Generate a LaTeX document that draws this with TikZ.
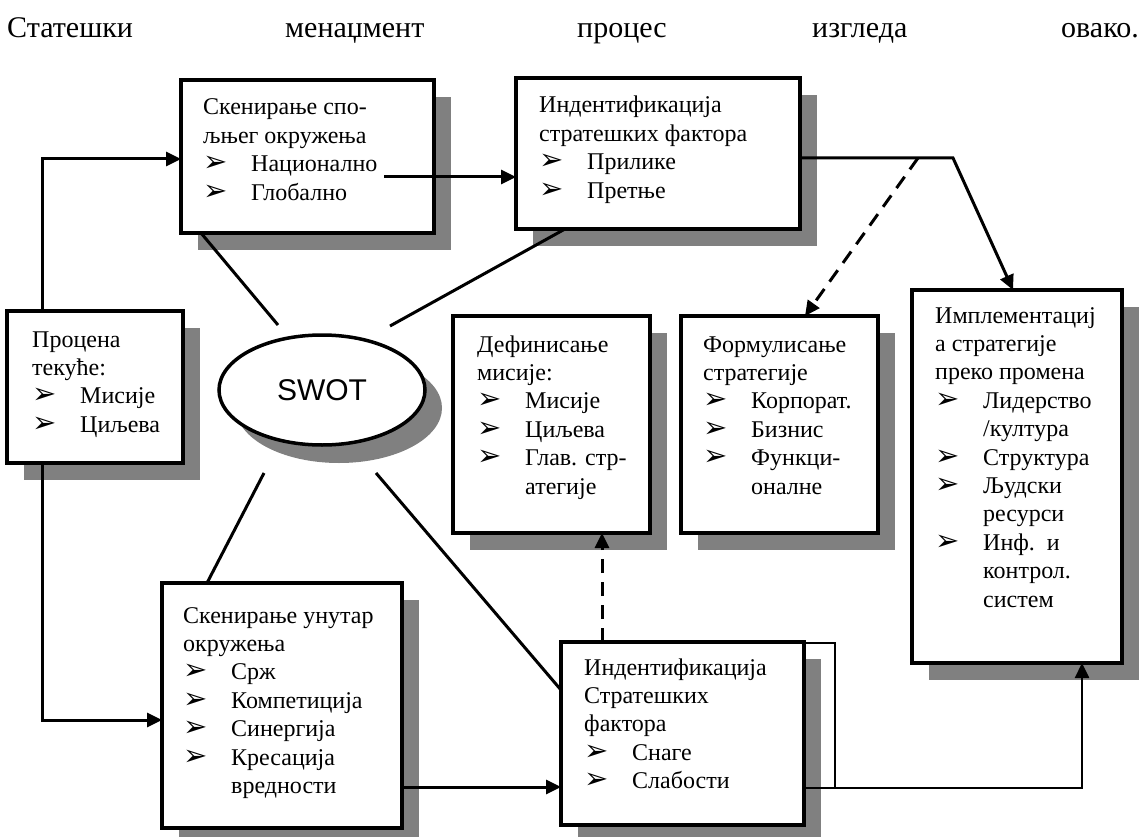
\documentclass[tikz,border=0pt]{standalone}
\usepackage{fontspec}
\setmainfont{Liberation Serif}
\newfontfamily\swotfont{Liberation Sans}
\newfontfamily\bulfont{DejaVu Sans}
\usetikzlibrary{arrows.meta,shapes.geometric,shadows}
\definecolor{shadowgray}{HTML}{808080}
\newcommand\bl{\makebox[48pt][l]{\bulfont\fontsize{29}{29}\selectfont ➢}}
\newcommand\ind{\hspace*{48pt}}
\begin{document}
\begin{tikzpicture}[x=1pt,y=-1pt,
  box/.style={draw, line width=4pt, fill=white, anchor=north west, inner sep=0pt, outer sep=0pt,
    drop shadow={shadow xshift=17pt, shadow yshift=-17pt, opacity=1, fill=shadowgray}},
  txt/.style={anchor=base west, inner sep=0pt, font=\fontsize{24}{28.4}\selectfont},
  ttl/.style={inner sep=0pt, font=\fontsize{30}{34}\selectfont},
  conn/.style={line width=3pt},
  thinconn/.style={line width=2.5pt},
  arr/.style={-{Triangle[length=15pt,width=14pt]}},
  dsh/.style={dash pattern=on 14pt off 9pt},
]
\fill[white] (0,0) rectangle (1145,837);
\useasboundingbox (0,0) rectangle (1145,837);

% title
\node[ttl, anchor=base west] (w1) at (7,38) {Статешки};
\node[ttl, anchor=base west] (w2) at (285,38) {менаџмент};
\node[ttl, anchor=base west] (w3) at (577,38) {процес};
\node[ttl, anchor=base west] (w4) at (812,38) {изгледа};
\node[ttl, anchor=base east] (w5) at (1139,38) {овако.};

% frame behind lower identification box
\draw[line width=2.5pt] (700,643) rectangle (835,788);

% boxes
\node[box, minimum width=176pt, minimum height=152pt] (proc) at (7,311) {};
\node[box, minimum width=253pt, minimum height=153pt] (b1) at (181,80) {};
\node[box, minimum width=284pt, minimum height=151pt] (b2) at (516,78) {};
\node[box, minimum width=197pt, minimum height=217pt] (def) at (453,316) {};
\node[box, minimum width=197pt, minimum height=217pt] (form) at (681,316) {};
\node[box, minimum width=210pt, minimum height=373pt] (impl) at (912,290) {};
\node[box, minimum width=240pt, minimum height=245pt] (b5) at (162,583) {};
\node[box, minimum width=243pt, minimum height=183pt] (b6) at (561,642) {};

\node[draw, ellipse, line width=3.5pt, fill=white, inner sep=0pt, minimum width=206pt, minimum height=110pt,
  drop shadow={shadow xshift=17pt, shadow yshift=-18pt, opacity=1, fill=shadowgray},
  font=\swotfont\fontsize{30}{30}\selectfont] (swot) at (322,390) {SWOT};

% texts
\node[txt] (tproc) at (32,347) {\parbox[t]{200pt}{Процена\\текуће:\\\bl Мисије\\\bl Циљева}};
\node[txt] (tb1) at (203,115) {\parbox[t]{300pt}{Скенирање спо-\\љњег окружења\\\bl Национално\\\bl Глобално}};
\node[txt] (tb2) at (539,113) {\parbox[t]{300pt}{Индентификација\\стратешких фактора\\\bl Прилике\\\bl Претње}};
\node[txt] (tdef) at (477,352) {\parbox[t]{200pt}{Дефинисање\\мисије:\\\bl Мисије\\\bl Циљева\\\bl Глав. стр-\\\ind атегије}};
\node[txt] (tform) at (703,352) {\parbox[t]{200pt}{Формулисање\\стратегије\\\bl Корпорат.\\\bl Бизнис\\\bl Функци-\\\ind оналне}};
\node[txt] (timpl) at (935,323) {\parbox[t]{200pt}{Имплементациј\\а стратегије\\преко промена\\\bl Лидерство\\\ind /култура\\\bl Структура\\\bl Људски\\\ind ресурси\\\bl Инф.\ \ и\\\ind контрол.\\\ind систем}};
\node[txt] (tb5) at (183,623) {\parbox[t]{300pt}{Скенирање унутар\\окружења\\\bl Срж\\\bl Компетиција\\\bl Синергија\\\bl Кресација\\\ind вредности}};
\node[txt] (tb6) at (584,675) {\parbox[t]{300pt}{Индентификација\\Стратешких\\фактора\\\bl Снаге\\\bl Слабости}};

% helper coordinates
\coordinate (vx) at (42,159);
\coordinate (vy) at (42,720);
\coordinate (nat) at (384,177);
\coordinate (k1) at (953,158);
\coordinate (k2) at (1013,290);
\coordinate (d1) at (918,158);
\coordinate (d2) at (805,316);
\coordinate (s1) at (278,325);
\coordinate (s2) at (390,326);
\coordinate (s3) at (264,473);
\coordinate (s4) at (376,473);
\path (b1.south west) ++(20,0) coordinate (p1);
\path (b2.south west) ++(49,0) coordinate (p2);
\path (b5.north west) ++(45,0) coordinate (p3);
\path (b6.north west) ++(0,48) coordinate (p4);
\coordinate (m1) at (0,787);
\coordinate (u1) at (602,0);
\coordinate (r1) at (1082,788);

% connectors
\draw[conn,arr] (proc.north -| vx) |- (b1.west |- vx);
\draw[conn,arr] (proc.south -| vy) |- (b5.west |- vy);
\draw[conn,arr] (nat) -- (b2.west |- nat);
\draw[conn,arr] (b2.east |- k1) -- (k1) -- (impl.north -| k2);
\draw[conn,arr,dsh] (d1) -- (form.north -| d2);
\draw[conn] (p1) -- (s1);
\draw[conn] (p2) -- (s2);
\draw[conn] (p3) -- (s3);
\draw[conn] (p4) -- (s4);
\draw[conn,arr] (b5.east |- m1) -- (b6.west |- m1);
\draw[conn,arr,dsh] (b6.north -| u1) -- (def.south -| u1);
\draw[thinconn,arr] (b6.east |- r1) -- (r1) -- (impl.south -| r1);
\end{tikzpicture}
\end{document}
